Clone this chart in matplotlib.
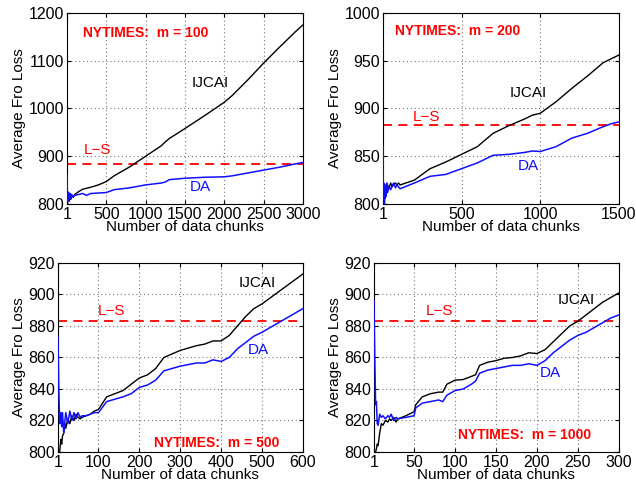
import numpy as np
import matplotlib
matplotlib.use('Agg')
import matplotlib.pyplot as plt

plt.rcParams['font.family'] = ['Liberation Sans', 'DejaVu Sans']

LS_VALUE = 883

# panel 1: m = 100
x1 = [1, 5, 10, 20, 30, 40, 50, 60, 80, 100, 150, 200, 250, 300, 400, 500, 600, 800,
      1000, 1200, 1250, 1300, 1500, 1750, 2000, 2100, 2300, 2500, 2700, 2900, 3000]
ijcai1 = [802, 798, 805, 812, 806, 815, 810, 818, 814, 820, 826, 831, 833, 835, 840, 847, 859, 878,
          900, 922, 930, 937, 958, 985, 1013, 1027, 1060, 1095, 1128, 1160, 1175]
da1 = [860, 815, 805, 825, 808, 822, 812, 820, 815, 818, 820, 822, 818, 822, 823, 824, 830, 834,
       840, 844, 846, 851, 854, 856, 857, 859, 865, 871, 877, 884, 887]

# panel 2: m = 200
x2 = [1, 3, 6, 10, 15, 20, 25, 30, 40, 50, 60, 70, 80, 90, 100, 110, 200, 300, 400, 500,
      600, 700, 800, 900, 950, 1000, 1100, 1200, 1300, 1400, 1450, 1500]
ijcai2 = [798, 800, 803, 812, 806, 815, 812, 820, 817, 822, 818, 821, 822, 820, 822, 820, 825, 837, 844, 852,
          860, 874, 882, 889, 893, 895, 907, 921, 934, 948, 952, 956]
da2 = [860, 805, 822, 800, 820, 808, 822, 812, 818, 815, 820, 822, 817, 820, 818, 816, 822, 829, 831, 837,
       843, 851, 852, 854, 855.5, 855, 860, 869, 874, 881, 884, 886]

# panel 3: m = 500
x3 = [1, 3, 5, 8, 10, 12, 15, 18, 20, 25, 30, 35, 40, 45, 50, 55, 60, 70, 80, 90, 100, 120,
      160, 180, 200, 220, 240, 260, 300, 340, 360, 380, 400, 420, 440, 460, 480, 500, 600]
ijcai3 = [795, 800, 800, 808, 805, 810, 812, 818, 815, 821, 818, 823, 820, 824, 822, 821, 822, 823, 824, 826, 827, 835,
          839, 843, 847, 849, 853, 860, 864.5, 867.5, 868.5, 870.5, 870.5, 874, 880, 886, 891, 894, 913]
da3 = [873, 840, 818, 825, 816, 825, 812, 820, 825, 818, 826, 820, 825, 821, 825, 822, 823, 823, 824, 825, 825, 832,
       835, 837, 841, 842.5, 845.6, 851.5, 854.5, 856.5, 856.5, 858.5, 857.5, 860, 865.5, 869.5, 873.5, 876, 891]

# panel 4: m = 1000
x4 = [1, 2, 3, 4, 5, 6, 8, 10, 12, 15, 18, 20, 22, 25, 28, 30, 40, 50, 52, 60, 70, 80, 85, 90,
      100, 110, 120, 125, 130, 140, 150, 160, 170, 180, 190, 200, 210, 220, 230, 240, 250, 260,
      270, 280, 290, 300]
ijcai4 = [790, 795, 800, 802, 805, 804, 812, 818, 817, 820, 819, 821, 820, 822, 819, 821, 823, 825.6, 830, 835, 837, 838, 838, 843,
          845.6, 846, 848, 849, 855, 857, 858, 859.5, 860, 861, 863, 862.5, 865, 870, 875, 880, 883, 887,
          891, 895, 898, 901]
da4 = [896, 860, 830, 832, 818, 817, 824, 822, 823, 821, 823, 822, 824, 820, 822, 821, 822, 823, 828, 831, 832, 833, 832, 836,
       839, 840, 843, 845, 850, 852, 853, 854, 855, 855, 856, 855, 858, 863, 867, 871, 874, 876,
       879, 882, 885, 887]

panels = [
    dict(x=x1, ij=ijcai1, da=da1, xlim=(1, 3000), xt=[1, 500, 1000, 1500, 2000, 2500, 3000],
         ylim=(800, 1200), yt=[800, 900, 1000, 1100, 1200], title='NYTIMES:  m = 100',
         pos=[0.1053, 0.5802, 0.371, 0.3931],
         t_title=(204, 1158), t_ij=(1590, 1053), t_ls=(215, 913), t_da=(1565, 836)),
    dict(x=x2, ij=ijcai2, da=da2, xlim=(1, 1500), xt=[1, 500, 1000, 1500],
         ylim=(800, 1000), yt=[800, 850, 900, 950, 1000], title='NYTIMES:  m = 200',
         pos=[0.6022, 0.5802, 0.371, 0.3931],
         t_title=(77, 981), t_ij=(808, 916), t_ls=(190, 891), t_da=(857, 840)),
    dict(x=x3, ij=ijcai3, da=da3, xlim=(1, 600), xt=[1, 100, 200, 300, 400, 500, 600],
         ylim=(800, 920), yt=[800, 820, 840, 860, 880, 900, 920], title='NYTIMES:  m = 500',
         pos=[0.0912, 0.0700, 0.385, 0.3889],
         t_title=(236, 806), t_ij=(443, 907), t_ls=(99, 889.5), t_da=(465, 865)),
    dict(x=x4, ij=ijcai4, da=da4, xlim=(1, 300), xt=[1, 50, 100, 150, 200, 250, 300],
         ylim=(800, 920), yt=[800, 820, 840, 860, 880, 900, 920], title='NYTIMES:  m = 1000',
         pos=[0.588, 0.0700, 0.385, 0.3889],
         t_title=(104, 811), t_ij=(225, 896.5), t_ls=(64, 889.5), t_da=(203, 850)),
]

fig = plt.figure(figsize=(6.36, 4.86), dpi=100)

for p in panels:
    ax = fig.add_axes(p['pos'])
    ax.plot(p['x'], p['ij'], color='black', lw=1.0, zorder=3)
    ax.plot(p['x'], p['da'], color='#1010ff', lw=1.1, zorder=3)
    ax.axhline(LS_VALUE, color='red', lw=1.3, ls=(0, (5, 3.5)), zorder=2)
    ax.set_xlim(*p['xlim'])
    ax.set_ylim(*p['ylim'])
    ax.set_xticks(p['xt'])
    ax.set_yticks(p['yt'])
    ax.tick_params(direction='in', top=True, right=True, labelsize=11.5, length=3, pad=2)
    ax.grid(True, ls=(0, (1, 2.5)), color='#777777', lw=0.8)
    ax.set_xlabel('Number of data chunks', fontsize=11, labelpad=-1)
    ax.set_ylabel('Average Fro Loss', fontsize=11, labelpad=2)
    ax.text(*p['t_title'], p['title'], color='red', fontsize=10, fontweight='bold', va='center')
    ax.text(*p['t_ij'], 'IJCAI', color='black', fontsize=11, va='center')
    ax.text(*p['t_ls'], 'L\u2212S', color='red', fontsize=11, va='center')
    ax.text(*p['t_da'], 'DA', color='#1010ff', fontsize=11, va='center')

fig.savefig('out.png', dpi=100)
